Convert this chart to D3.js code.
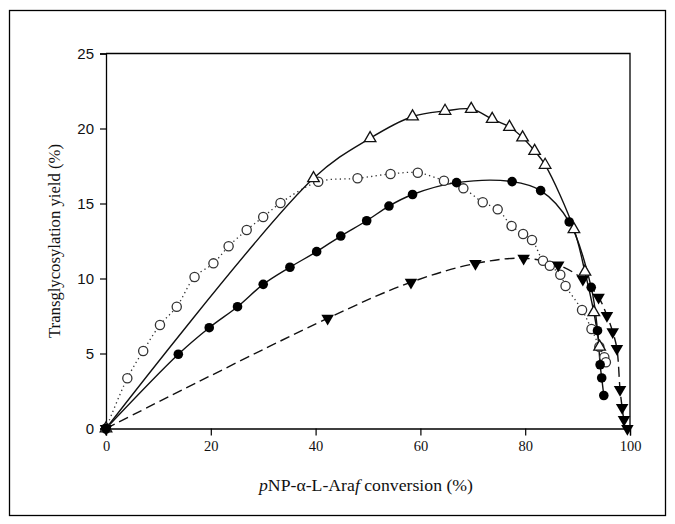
<!DOCTYPE html>
<html>
<head>
<meta charset="utf-8">
<script src="https://cdn.jsdelivr.net/npm/d3@7/dist/d3.min.js"></script>
<style>
  html, body { margin: 0; padding: 0; background: #fff; }
  svg { display: block; }
</style>
</head>
<body>
<svg id="chart" width="675" height="524"></svg>
<script>
// ---- data (x = pNP-α-L-Araf conversion %, y = transglycosylation yield %) ----
const xTicks = [0, 20, 40, 60, 80, 100];
const yTicks = [0, 5, 10, 15, 20, 25];

const openTriX = [0, 39.6, 50.4, 58.5, 64.7, 69.7, 73.7, 77.0, 79.5, 81.8, 83.8, 89.3, 91.4, 93.1, 94.2];
const openTriY = [0, 16.68, 19.35, 20.8, 21.17, 21.3, 20.63, 20.1, 19.4, 18.5, 17.57, 13.28, 10.45, 7.75, 5.45];

const filledCircX = [0, 13.8, 19.7, 25.1, 30.0, 35.1, 40.2, 44.8, 49.75, 54.0, 58.5, 66.9, 77.5, 82.95, 88.4, 92.6, 93.8, 94.3, 94.6, 95.0];
const filledCircY = [0, 4.95, 6.72, 8.12, 9.61, 10.75, 11.79, 12.83, 13.85, 14.83, 15.6, 16.39, 16.46, 15.86, 13.77, 9.41, 6.52, 4.25, 3.37, 2.2];

const openCircX = [0, 4.07, 7.1, 10.3, 13.5, 16.9, 20.5, 23.4, 26.85, 30.0, 33.3, 40.5, 48.0, 54.3, 59.5, 64.5, 68.2, 71.9, 74.75, 77.4, 79.6, 81.3, 83.4, 84.7, 86.7, 87.7, 90.85, 92.65, 94.15, 95.1, 95.4];
const openCircY = [0, 3.35, 5.17, 6.9, 8.12, 10.1, 11.01, 12.15, 13.23, 14.1, 15.03, 16.45, 16.68, 16.97, 17.05, 16.52, 16.01, 15.08, 14.61, 13.5, 12.97, 12.57, 11.18, 10.85, 10.25, 9.5, 7.9, 6.63, 5.45, 4.75, 4.42];

const invTriX = [0, 42.3, 58.2, 70.5, 79.7, 86.3, 91.0, 94.0, 95.6, 96.7, 97.5, 98.1, 98.5, 98.85, 99.5];
const invTriY = [0, 7.35, 9.75, 11.0, 11.35, 10.9, 9.95, 8.75, 7.53, 6.45, 5.33, 2.6, 1.4, 0.6, 0];

// ---- layout ----
const svg = d3.select("#chart");
const margin = { left: 106, right: 45, top: 53.5, bottom: 95.5 };
const W = 675, H = 524;
const x = d3.scaleLinear().domain([0, 100]).range([margin.left, W - margin.right]);
const y = d3.scaleLinear().domain([0, 25]).range([H - margin.bottom, margin.top]);

// outer frame
svg.append("rect")
  .attr("x", 9.5).attr("y", 10.5).attr("width", 656).attr("height", 505)
  .attr("fill", "none").attr("stroke", "#000").attr("stroke-width", 1.3);

// plot box (top & right)
svg.append("path")
  .attr("d", `M${x(0)},${y(25)}H${x(100)}V${y(0)}`)
  .attr("fill", "none").attr("stroke", "#000").attr("stroke-width", 1.3);

// axes
const xAxis = svg.append("g")
  .attr("transform", `translate(0,${y(0)})`)
  .call(d3.axisBottom(x).tickValues(xTicks).tickSize(7).tickPadding(5).tickFormat(d3.format("d")));
const yAxis = svg.append("g")
  .attr("transform", `translate(${x(0)},0)`)
  .call(d3.axisLeft(y).tickValues(yTicks).tickSize(6).tickPadding(6).tickFormat(d3.format("d")));

[xAxis, yAxis].forEach(g => {
  g.select(".domain").attr("stroke", "#000").attr("stroke-width", 1.3);
  g.selectAll(".tick line").attr("stroke", "#000").attr("stroke-width", 1.2);
});
xAxis.selectAll(".tick text")
  .attr("fill", "#111").attr("font-family", "'Liberation Serif', 'Times New Roman', serif").attr("font-size", 14.5);
yAxis.selectAll(".tick text")
  .attr("fill", "#111").attr("font-family", "'Liberation Sans', Arial, sans-serif").attr("font-size", 15);

// ---- series ----
const mk = (xs, ys) => xs.map((v, i) => [v, ys[i]]);
const line = d3.line().x(d => x(d[0])).y(d => y(d[1])).curve(d3.curveCatmullRom.alpha(0.5));

const series = [
  { pts: mk(openCircX, openCircY), dash: "1.3,3.2", stroke: "#333", width: 1.3, type: "ocirc" },
  { pts: mk(invTriX, invTriY), dash: "10,5", stroke: "#111", width: 1.4, type: "itri" },
  { pts: mk(openTriX, openTriY), dash: null, stroke: "#111", width: 1.4, type: "otri" },
  { pts: mk(filledCircX, filledCircY), dash: null, stroke: "#111", width: 1.4, type: "fcirc" }
];

series.forEach(s => {
  svg.append("path")
    .attr("d", line(s.pts))
    .attr("fill", "none")
    .attr("stroke", s.stroke)
    .attr("stroke-width", s.width)
    .attr("stroke-dasharray", s.dash);
});

const triUp = d3.symbol().type(d3.symbolTriangle).size(58);
const triDown = d3.symbol().type(d3.symbolTriangle).size(68);
series.forEach(s => {
  const g = svg.append("g");
  s.pts.forEach(p => {
    const cx = x(p[0]), cy = y(p[1]);
    if (s.type === "ocirc") {
      g.append("circle").attr("cx", cx).attr("cy", cy).attr("r", 4.6)
        .attr("fill", "#fff").attr("stroke", "#333").attr("stroke-width", 1.3);
    } else if (s.type === "fcirc") {
      g.append("circle").attr("cx", cx).attr("cy", cy).attr("r", 4.8).attr("fill", "#000");
    } else if (s.type === "otri") {
      g.append("path").attr("d", triUp()).attr("transform", `translate(${cx},${cy})`)
        .attr("fill", "#fff").attr("stroke", "#111").attr("stroke-width", 1.3);
    } else {
      g.append("path").attr("d", triDown()).attr("transform", `translate(${cx},${cy}) rotate(180)`)
        .attr("fill", "#000");
    }
  });
});

// ---- titles ----
svg.append("text")
  .attr("transform", `translate(60,${(y(0) + y(25)) / 2}) rotate(-90)`)
  .attr("text-anchor", "middle")
  .attr("font-family", "'Liberation Serif', 'Times New Roman', serif")
  .attr("font-size", 16.5).attr("fill", "#111")
  .attr("textLength", 194).attr("lengthAdjust", "spacingAndGlyphs")
  .text("Transglycosylation yield (%)");

const xt = svg.append("text")
  .attr("x", (x(0) + x(100)) / 2 - 2).attr("y", 491)
  .attr("text-anchor", "middle")
  .attr("font-family", "'Liberation Serif', 'Times New Roman', serif")
  .attr("font-size", 16.5).attr("fill", "#111")
  .attr("textLength", 214).attr("lengthAdjust", "spacingAndGlyphs");
xt.append("tspan").attr("font-style", "italic").text("p");
xt.append("tspan").text("NP-\u03B1-L-Ara");
xt.append("tspan").attr("font-style", "italic").text("f");
xt.append("tspan").text(" conversion (%)");
</script>
</body>
</html>
